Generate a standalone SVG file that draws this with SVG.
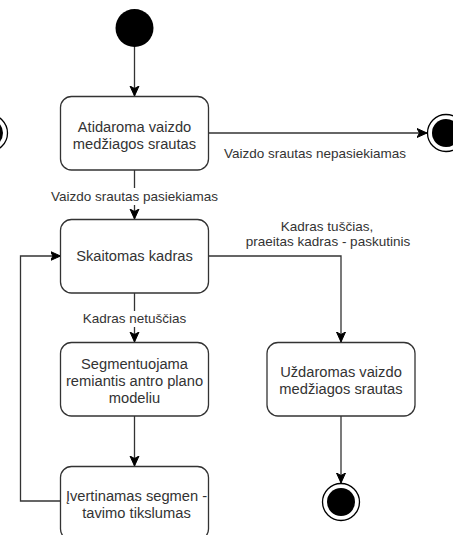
<svg xmlns="http://www.w3.org/2000/svg" width="453" height="535" viewBox="0 0 453 535">
<defs>
<marker id="arr" markerUnits="userSpaceOnUse" markerWidth="12" markerHeight="12" refX="10" refY="5" orient="auto">
<path d="M0,0.5 L10,5 L0,9.5 L2.5,5 Z" fill="#000" stroke="#000" stroke-width="1"/>
</marker>
</defs>
<style>
.box{fill:#fff;stroke:#333;stroke-width:1.3}
.nt{font-family:"Liberation Sans",Arial,sans-serif;font-size:14.7px;fill:#333;text-anchor:middle}
.lb{font-family:"Liberation Sans",Arial,sans-serif;font-size:13.5px;fill:#333;text-anchor:middle}
.edge{fill:none;stroke:#333;stroke-width:1.3}
.lbg{fill:#fff}
</style>
<rect width="453" height="535" fill="#fff"/>
<g id="connectors">
<path class="edge" d="M134.5,47 V96" marker-end="url(#arr)"/>
<path class="edge" d="M208.5,133 H427" marker-end="url(#arr)"/>
<path class="edge" d="M134.5,170 V219" marker-end="url(#arr)"/>
<path class="edge" d="M208.5,256 H341 V342" marker-end="url(#arr)"/>
<path class="edge" d="M134.5,293 V342" marker-end="url(#arr)"/>
<path class="edge" d="M134.5,416 V466" marker-end="url(#arr)"/>
<path class="edge" d="M60.5,501 H20.5 V256 H60.5" marker-end="url(#arr)"/>
<path class="edge" d="M341,416 V483" marker-end="url(#arr)"/>
<g id="label-nepasiekiamas"><text class="lb" x="315" y="158">Vaizdo srautas nepasiekiamas</text></g>
<g id="label-pasiekiamas"><rect class="lbg" x="50" y="188" width="169" height="17"/><text class="lb" x="134.5" y="201">Vaizdo srautas pasiekiamas</text></g>
<g id="label-tuscias"><text class="lb" x="327" y="231">Kadras tuščias,</text><text class="lb" x="328" y="246">praeitas kadras - paskutinis</text></g>
<g id="label-netuscias"><rect class="lbg" x="82" y="311" width="105" height="16"/><text class="lb" x="134.5" y="323">Kadras netuščias</text></g>
</g>
<g id="initial"><circle cx="134.5" cy="28" r="19" fill="#000"/></g>
<g id="final-left"><circle cx="-11" cy="133" r="18.5" fill="#fff" stroke="#000" stroke-width="1.3"/><circle cx="-11" cy="133" r="14" fill="#000"/></g>
<g id="final-top"><circle cx="446" cy="133" r="18.5" fill="#fff" stroke="#000" stroke-width="1.3"/><circle cx="446" cy="133" r="14" fill="#000"/></g>
<g id="final-bottom"><circle cx="341" cy="502" r="18.5" fill="#fff" stroke="#000" stroke-width="1.3"/><circle cx="341" cy="502" r="14" fill="#000"/></g>
<g id="open"><rect class="box" x="60.5" y="96.5" width="148" height="73.5" rx="11"/><text class="nt" x="134.5" y="132">Atidaroma vaizdo</text><text class="nt" x="134.5" y="149">medžiagos srautas</text></g>
<g id="read"><rect class="box" x="60.5" y="219.5" width="148" height="73.5" rx="11"/><text class="nt" x="134.5" y="261">Skaitomas kadras</text></g>
<g id="segment"><rect class="box" x="60.5" y="342.5" width="148" height="73.5" rx="11"/><text class="nt" x="134.5" y="369">Segmentuojama</text><text class="nt" x="134.5" y="386">remiantis antro plano</text><text class="nt" x="134.5" y="403">modeliu</text></g>
<g id="evaluate"><rect class="box" x="60.5" y="466.5" width="148" height="73.5" rx="11"/><text class="nt" x="136.5" y="501">Įvertinamas segmen -</text><text class="nt" x="136.5" y="518">tavimo tikslumas</text></g>
<g id="close"><rect class="box" x="267" y="342.5" width="148" height="73.5" rx="11"/><text class="nt" x="341" y="377">Uždaromas vaizdo</text><text class="nt" x="341" y="394">medžiagos srautas</text></g>
</svg>
